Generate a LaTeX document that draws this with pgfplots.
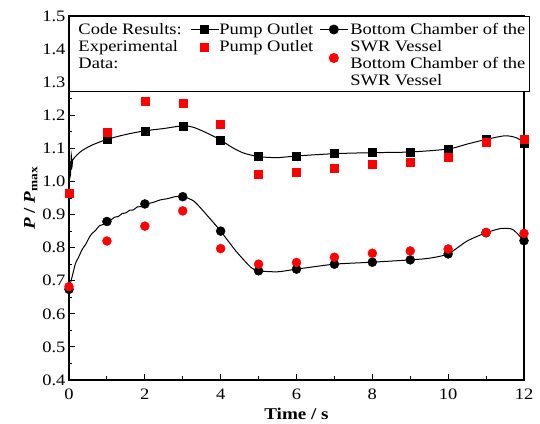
\documentclass[border=0pt]{standalone}
\usepackage{pgfplots}
\pgfplotsset{compat=1.18}
\usepackage{fontspec}
\setmainfont{Liberation Serif}[FakeStretch=1.16]
\pgfplotsset{
  codeline/.style={legend image code/.code={\draw[mark repeat=2,mark phase=2,##1] plot coordinates {(0bp,5bp)(14bp,5bp)(28bp,5bp)};}},
  markonly/.style={legend image code/.code={\draw[##1] plot coordinates {(14bp,#1)};}},
}
\begin{document}
\begin{tikzpicture}
\begin{axis}[
  scale only axis, width=455bp, height=364bp,
  xmin=0, xmax=12, ymin=0.4, ymax=1.5,
  xtick={0,2,4,6,8,10,12}, minor xtick={1,3,5,7,9,11},
  xticklabels={0,2,4,6,8,10,12},
  ytick={0.4,0.5,0.6,0.7,0.8,0.9,1.0,1.1,1.2,1.3,1.4,1.5},
  yticklabels={0.4,0.5,0.6,0.7,0.8,0.9,1.0,1.1,1.2,1.3,1.4,1.5},
  minor ytick={0.45,0.55,0.65,0.75,0.85,0.95,1.05,1.15,1.25,1.35,1.45},
  tick align=inside, xtick pos=left, ytick pos=left,
  major tick length=6bp, minor tick length=3.5bp,
  tick style={black, line width=0.9pt},
  axis line style={line width=1.2pt},
  ticklabel style={font=\fontsize{16}{18}\selectfont},
  xticklabel style={yshift=-5bp},
  xlabel={\textbf{Time / s}}, ylabel={\textbf{\textit{P} / \textit{P}}\textsubscript{\textbf{max}}},
  label style={font=\fontsize{16.5}{18}\selectfont},
  xlabel style={yshift=-2bp}, ylabel style={yshift=-2bp},
  legend columns=3,
  legend style={at={(0,1)}, anchor=north west, draw=black, line width=1pt, fill=white,
    font=\fontsize{16}{16.5}\selectfont, inner xsep=3bp, inner ysep=3bp,
    row sep=-1bp,
    nodes={inner xsep=0bp, inner ysep=1bp, text height=14bp, text depth=2bp},
    cells={anchor=base west}},
]
% row 1
\addlegendimage{empty legend}
\addlegendentry{\makebox[118bp][l]{\hspace{6bp}Code Results:}}
\addlegendimage{black, line width=0.9pt, mark=square*, mark size=4bp, codeline}
\addlegendentry{\makebox[100bp][l]{Pump Outlet}}
\addlegendimage{black, line width=0.9pt, mark=*, mark size=4.5bp, codeline}
\addlegendentry{\makebox[178bp][l]{\hspace{2bp}Bottom Chamber of the}}
% row 2
\addlegendimage{empty legend}
\addlegendentry{\makebox[118bp][l]{\hspace{6bp}Experimental}}
\addlegendimage{only marks, red, mark=square*, mark size=4bp, markonly=4bp}
\addlegendentry{\makebox[100bp][l]{Pump Outlet}}
\addlegendimage{empty legend}
\addlegendentry{\makebox[178bp][l]{\hspace{2bp}SWR Vessel}}
% row 3
\addlegendimage{empty legend}
\addlegendentry{\makebox[118bp][l]{\hspace{6bp}Data:}}
\addlegendimage{empty legend}
\addlegendentry{\mbox{}}
\addlegendimage{only marks, red, mark=*, mark size=4.5bp, markonly=11bp}
\addlegendentry{\makebox[178bp][l]{\hspace{2bp}Bottom Chamber of the}}
% row 4
\addlegendimage{empty legend}
\addlegendentry{\mbox{}}
\addlegendimage{empty legend}
\addlegendentry{\mbox{}}
\addlegendimage{empty legend}
\addlegendentry{\makebox[178bp][l]{\hspace{2bp}SWR Vessel}}

% code result curves
\addplot[forget plot, black, line width=1pt, smooth, tension=0.45] coordinates {
(0,0.98)(0.02,1.06)(0.04,1.02)(0.06,1.08)(0.08,1.045)(0.1,1.065)(0.21,1.08)(0.34,1.093)(0.61,1.11)(1,1.127)(1.5,1.142)(2,1.153)(2.5,1.16)(3,1.168)(3.3,1.163)(3.7,1.143)(4,1.125)(4.3,1.103)(4.6,1.086)(5,1.075)(5.5,1.072)(6,1.077)(7,1.084)(8,1.087)(9,1.089)(10,1.098)(10.5,1.113)(11,1.127)(11.5,1.138)(11.8,1.132)(12,1.117)};
\addplot[forget plot, black, line width=1pt, smooth, tension=0.4] coordinates {
(0,0.674)(0.04,0.693)(0.1,0.72)(0.17,0.752)(0.25,0.77)(0.34,0.793)(0.45,0.812)(0.53,0.83)(0.61,0.843)(0.7,0.852)(0.8,0.866)(0.9,0.870)(1,0.879)(1.1,0.883)(1.2,0.892)(1.3,0.894)(1.4,0.903)(1.5,0.905)(1.6,0.913)(1.7,0.914)(1.8,0.923)(1.9,0.924)(2,0.932)(2.2,0.936)(2.4,0.944)(2.6,0.948)(2.8,0.954)(3,0.954)(3.3,0.94)(3.7,0.89)(4,0.85)(4.4,0.79)(4.8,0.74)(5,0.730)(5.5,0.727)(6,0.735)(7,0.75)(8,0.756)(9,0.763)(9.5,0.768)(10,0.781)(10.5,0.82)(11,0.845)(11.4,0.858)(11.7,0.855)(12,0.821)};
\addplot[forget plot, only marks, black, mark=square*, mark size=4bp] coordinates {
(1,1.127)(2,1.153)(3,1.168)(4,1.125)(5,1.075)(6,1.077)(7,1.084)(8,1.087)(9,1.089)(10,1.098)(11,1.127)(12,1.117)};
\addplot[forget plot, only marks, black, mark=*, mark size=4.5bp] coordinates {
(0,0.674)(1,0.879)(2,0.932)(3,0.954)(4,0.850)(5,0.730)(6,0.735)(7,0.750)(8,0.756)(9,0.763)(10,0.781)(11,0.845)(12,0.821)};
% experimental data
\addplot[forget plot, only marks, red, mark=square*, mark size=4bp] coordinates {
(0,0.963)(1,1.150)(2,1.244)(3,1.236)(4,1.173)(5,1.023)(6,1.028)(7,1.041)(8,1.051)(9,1.057)(10,1.074)(11,1.118)(12,1.127)};
\addplot[forget plot, only marks, red, mark=*, mark size=4.5bp] coordinates {
(0,0.682)(1,0.820)(2,0.865)(3,0.911)(4,0.797)(5,0.750)(6,0.755)(7,0.771)(8,0.783)(9,0.790)(10,0.796)(11,0.846)(12,0.843)};
\end{axis}
\path (current axis.south west)+(-69bp,-44bp) coordinate (bbA);
\path (current axis.north east)+(16bp,16bp) coordinate (bbB);
\path (bbA) rectangle (bbB);
\end{tikzpicture}
\end{document}
